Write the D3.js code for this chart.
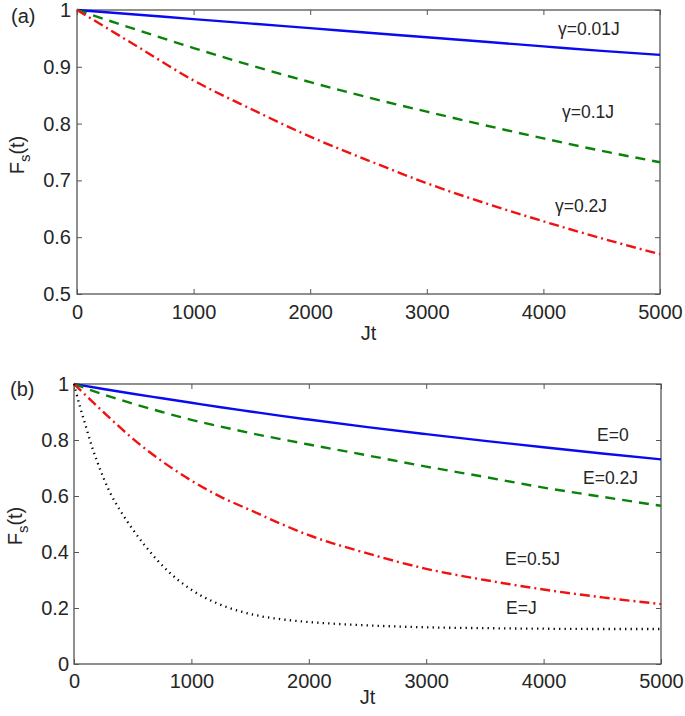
<!DOCTYPE html>
<html>
<head>
<meta charset="utf-8">
<script src="https://cdn.jsdelivr.net/npm/d3@7"></script>
<style>
  html, body { margin: 0; padding: 0; background: #fff; }
  svg { display: block; }
  text { font-family: "Liberation Sans", Arial, Helvetica, sans-serif; fill: #262626; }
</style>
</head>
<body>
<svg id="chart" width="685" height="716"></svg>
<script>
// ---------- data ----------
const xTicks = [0, 1000, 2000, 3000, 4000, 5000];
const yTicksA = [0.5, 0.6, 0.7, 0.8, 0.9, 1];
const yTicksB = [0, 0.2, 0.4, 0.6, 0.8, 1];

// panel (a)
const timeA = [0, 500, 1000, 1500, 2000, 2500, 3000, 3500, 4000, 4500, 5000];
const gamma001 = [1, 0.992, 0.984, 0.976, 0.968, 0.960, 0.952, 0.944, 0.936, 0.928, 0.921];
const gamma01  = [1, 0.966, 0.933, 0.902, 0.873, 0.846, 0.821, 0.797, 0.774, 0.752, 0.732];
const gamma02  = [1, 0.938, 0.876, 0.825, 0.777, 0.735, 0.695, 0.660, 0.628, 0.598, 0.570];

// panel (b)
const timeB = [0, 250, 500, 750, 1000, 1250, 1500, 1750, 2000, 2500, 3000, 3500, 4000, 4500, 5000];
const e0   = [1, 0.982, 0.965, 0.949, 0.933, 0.917, 0.902, 0.887, 0.873, 0.846, 0.821, 0.797, 0.774, 0.752, 0.731];
const e02  = [1, 0.963, 0.930, 0.900, 0.872, 0.848, 0.825, 0.804, 0.784, 0.745, 0.705, 0.668, 0.630, 0.597, 0.565];
const e05  = [1, 0.900, 0.805, 0.724, 0.655, 0.597, 0.550, 0.503, 0.460, 0.395, 0.340, 0.300, 0.266, 0.238, 0.214];
const timeC = [0, 50, 100, 150, 200, 300, 400, 500, 600, 700, 800, 1000, 1200, 1400, 1600, 1800, 2000, 2500, 3000, 3500, 4000, 4500, 5000];
const eJ   = [1, 0.92, 0.85, 0.78, 0.72, 0.618, 0.544, 0.481, 0.425, 0.375, 0.332, 0.265, 0.220, 0.190, 0.170, 0.158, 0.150, 0.138, 0.131, 0.128, 0.126, 0.125, 0.125];

const labelsA = ["γ=0.01J", "γ=0.1J", "γ=0.2J"];
const labelsB = ["E=0", "E=0.2J", "E=0.5J", "E=J"];

// ---------- styles ----------
const BLUE = "#0a0af0", GREEN = "#0a820a", RED = "#f01212", BLACK = "#000";
const styles = {
  solid:   { color: BLUE,  dash: null, width: 2.4 },
  dashed:  { color: GREEN, dash: "10,7", width: 2.4 },
  dashdot: { color: RED,   dash: "10,4,2,4", width: 2.4 },
  dotted:  { color: BLACK, dash: "1.3,4.2", width: 2.3 }
};

const svg = d3.select("#chart");
const AXIS = "#555";

function panel(cfg) {
  const x = d3.scaleLinear().domain([0, 5000]).range([cfg.left, cfg.right]);
  const y = d3.scaleLinear().domain(cfg.yDomain).range([cfg.bottom, cfg.top]);
  const g = svg.append("g");

  g.append("rect")
    .attr("x", cfg.left).attr("y", cfg.top)
    .attr("width", cfg.right - cfg.left).attr("height", cfg.bottom - cfg.top)
    .attr("fill", "none").attr("stroke", AXIS).attr("stroke-width", 1.3);

  const styleAxis = sel => {
    sel.select(".domain").remove();
    sel.selectAll(".tick line").attr("stroke", AXIS).attr("stroke-width", 1);
    sel.selectAll("text").style("font-size", "20px").attr("fill", "#262626");
  };

  g.append("g").attr("transform", `translate(0,${cfg.bottom})`)
    .call(d3.axisBottom(x).tickValues(xTicks).tickFormat(d3.format("d"))
      .tickSizeInner(-5).tickSizeOuter(0).tickPadding(cfg.xPad))
    .call(styleAxis);
  g.append("g").attr("transform", `translate(0,${cfg.top})`)
    .call(d3.axisTop(x).tickValues(xTicks).tickFormat("")
      .tickSizeInner(-5).tickSizeOuter(0))
    .call(styleAxis);
  g.append("g").attr("transform", `translate(${cfg.left},0)`)
    .call(d3.axisLeft(y).tickValues(cfg.yTicks).tickFormat(d => d3.format("")(+d.toFixed(1)))
      .tickSizeInner(-5).tickSizeOuter(0).tickPadding(cfg.yPad))
    .call(styleAxis);
  g.append("g").attr("transform", `translate(${cfg.right},0)`)
    .call(d3.axisRight(y).tickValues(cfg.yTicks).tickFormat("")
      .tickSizeInner(-5).tickSizeOuter(0))
    .call(styleAxis);

  cfg.series.forEach(s => {
    const st = styles[s.style];
    const line = d3.line()
      .x((d, i) => x(s.t[i]))
      .y(d => y(d))
      .curve(d3.curveMonotoneX);
    g.append("path")
      .datum(s.v)
      .attr("d", line)
      .attr("fill", "none")
      .attr("stroke", st.color)
      .attr("stroke-width", st.width)
      .attr("stroke-dasharray", st.dash)
      .attr("stroke-linecap", "butt");
  });

  cfg.notes.forEach(n => {
    g.append("text").attr("x", n.x).attr("y", n.y)
      .style("font-size", "17.5px").text(n.text);
  });

  g.append("text").attr("x", cfg.tagX).attr("y", cfg.tagY)
    .style("font-size", "20px").text(cfg.tag);

  g.append("text")
    .attr("x", (cfg.left + cfg.right) / 2).attr("y", cfg.xLabelY)
    .attr("text-anchor", "middle").style("font-size", "20px").text("Jt");

  const yl = g.append("text")
    .attr("transform", `translate(${cfg.yLabelX},${cfg.yLabelY}) rotate(-90)`)
    .attr("text-anchor", "middle").style("font-size", "20px");
  yl.append("tspan").text("F");
  yl.append("tspan").attr("dy", 6).style("font-size", "15px").text("s");
  yl.append("tspan").attr("dy", -6).text("(t)");
}

panel({
  left: 77, right: 660, top: 10, bottom: 294,
  yDomain: [0.5, 1], yTicks: yTicksA, xPad: 11, yPad: 6,
  tag: "(a)", tagX: 11, tagY: 23,
  xLabelY: 340, yLabelX: 24, yLabelY: 155,
  series: [
    { t: timeA, v: gamma001, style: "solid" },
    { t: timeA, v: gamma01,  style: "dashed" },
    { t: timeA, v: gamma02,  style: "dashdot" }
  ],
  notes: [
    { text: labelsA[0], x: 558, y: 35 },
    { text: labelsA[1], x: 562, y: 118 },
    { text: labelsA[2], x: 555, y: 212 }
  ]
});

panel({
  left: 74, right: 661, top: 384, bottom: 664,
  yDomain: [0, 1], yTicks: yTicksB, xPad: 10, yPad: 5,
  tag: "(b)", tagX: 10, tagY: 396,
  xLabelY: 704, yLabelX: 22, yLabelY: 526,
  series: [
    { t: timeB, v: e0,  style: "solid" },
    { t: timeB, v: e02, style: "dashed" },
    { t: timeB, v: e05, style: "dashdot" },
    { t: timeC, v: eJ,  style: "dotted" }
  ],
  notes: [
    { text: labelsB[0], x: 597, y: 441 },
    { text: labelsB[1], x: 583, y: 484 },
    { text: labelsB[2], x: 505, y: 565 },
    { text: labelsB[3], x: 506, y: 614 }
  ]
});
</script>
</body>
</html>
